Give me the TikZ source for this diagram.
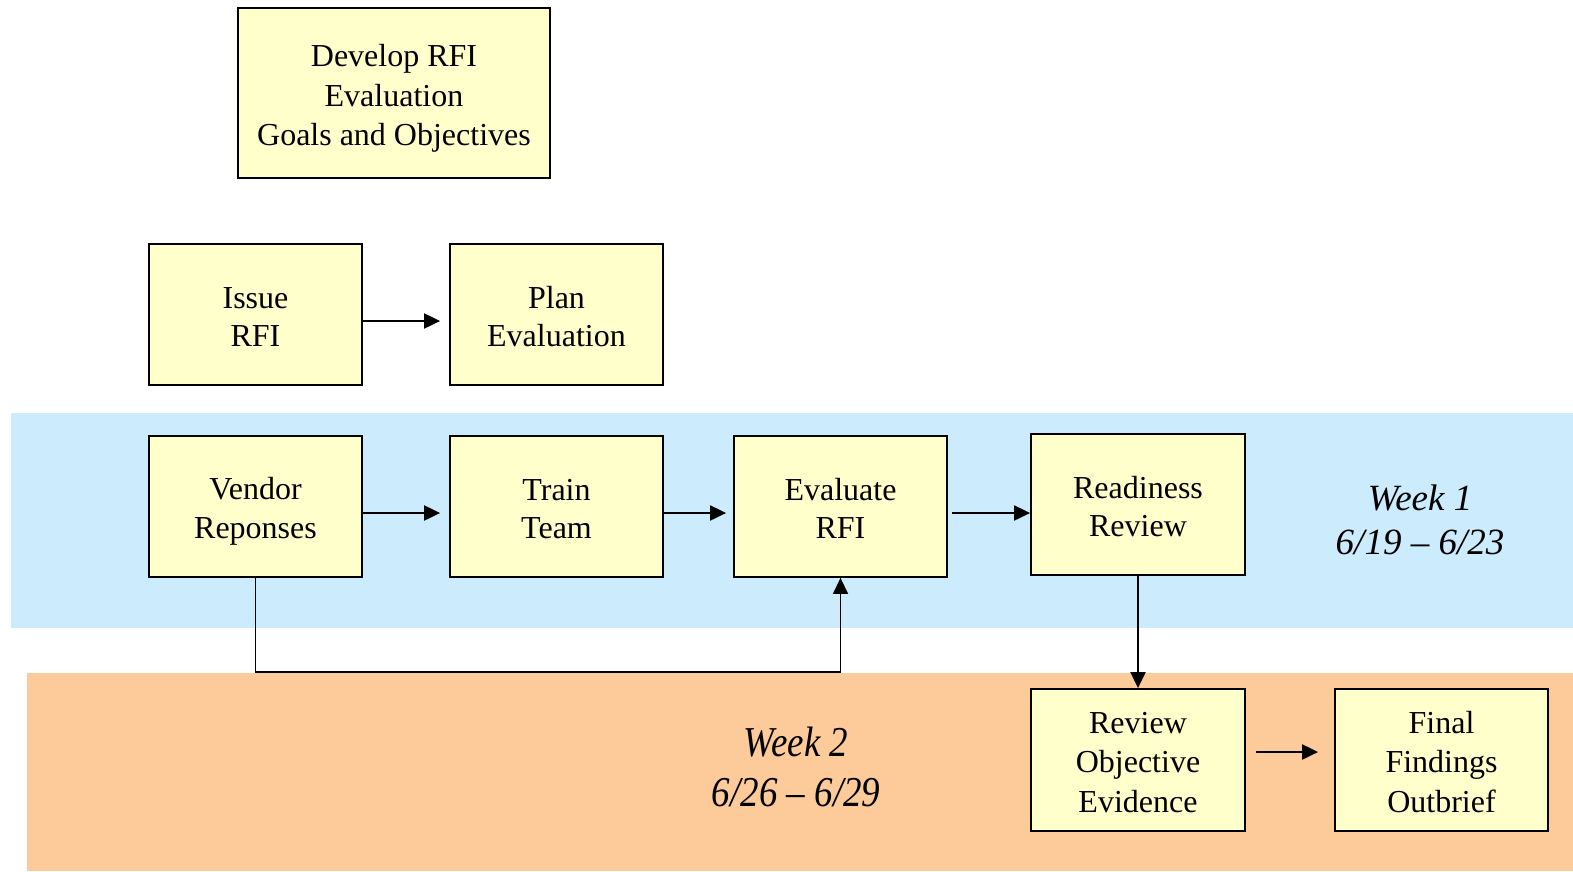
\documentclass[tikz,border=0pt]{standalone}
\usepackage{fontspec}
\setmainfont{Liberation Serif}
\usetikzlibrary{arrows.meta,calc}
\definecolor{boxfill}{HTML}{FFFFCC}
\definecolor{bandblue}{HTML}{CCEBFD}
\definecolor{bandorange}{HTML}{FDCA99}
\newcommand\ms{\rule[-6.25pt]{0pt}{38.5pt}}
\tikzset{
  stepbox/.style={draw=black, line width=1.8pt, fill=boxfill, rectangle, inner sep=0pt,
    align=center, font=\fontsize{32}{38.5}\selectfont},
  arr/.style={line width=2pt, -{Triangle[length=16pt,width=15pt]}},
  weeklbl/.style={align=center, font=\itshape\fontsize{37}{44}\selectfont}
}
\begin{document}
\begin{tikzpicture}[x=1pt,y=-1pt]
\useasboundingbox (0,0) rectangle (1573,871);
% bands
\fill[bandblue] (11,413) rectangle (1573,628);
\fill[bandorange] (27,673) rectangle (1573,871);
% boxes
\node[stepbox, minimum width=312pt, minimum height=170pt] (dev) at (394,93) {\ms Develop RFI\\\ms Evaluation\\\ms Goals and Objectives};
\node[stepbox, minimum width=213pt, minimum height=141pt] (issue) at (255.5,314.5) {\ms Issue\\\ms RFI};
\node[stepbox, minimum width=213pt, minimum height=141pt] (plan) at (556.5,314.5) {\ms Plan\\\ms Evaluation};
\node[stepbox, minimum width=213pt, minimum height=141pt] (vendor) at (255.5,506.5) {\ms Vendor\\\ms Reponses};
\node[stepbox, minimum width=213pt, minimum height=141pt] (train) at (556.5,506.5) {\ms Train\\\ms Team};
\node[stepbox, minimum width=213pt, minimum height=141pt] (eval) at (840.5,506.5) {\ms Evaluate\\\ms RFI};
\node[stepbox, minimum width=214pt, minimum height=141pt] (ready) at (1138,504.5) {\ms Readiness\\\ms Review};
\node[stepbox, minimum width=214pt, minimum height=142pt] (review) at (1138,760) {\ms Review\\\ms Objective\\\ms Evidence};
\node[stepbox, minimum width=213pt, minimum height=142pt] (final) at (1441.5,760) {\ms Final\\\ms Findings\\\ms Outbrief};
% week labels
\node[weeklbl] (w1) at (1420,520) {Week 1\\6/19 -- 6/23};
\node[weeklbl, yscale=1.15] (w2) at (796,767) {Week 2\\6/26 -- 6/29};
% connectors
\draw[arr, shorten >=9pt] (issue.east |- 0,321) -- (plan.west |- 0,321);
\draw[arr, shorten >=9pt] (vendor.east |- 0,513) -- (train.west |- 0,513);
\draw[arr, shorten >=7pt] (train.east |- 0,513) -- (eval.west |- 0,513);
\draw[arr, shorten <=4pt] (eval.east |- 0,513) -- (ready.west |- 0,513);
\draw[arr] (ready.south) -- (review.north);
\draw[arr, shorten <=10pt, shorten >=16pt] (review.east |- 0,752) -- (final.west |- 0,752);
\coordinate (elb) at (0,672);
\draw[line width=1.5pt, -{Triangle[length=16pt,width=15pt]}] (vendor.south) -- (vendor.south |- elb) -| (eval.south);
\end{tikzpicture}
\end{document}
